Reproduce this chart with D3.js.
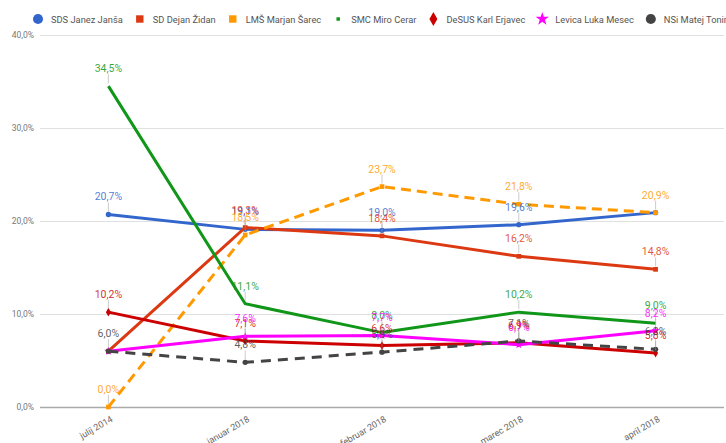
<!DOCTYPE html>
<html>
<head>
<meta charset="utf-8">
<script src="https://cdn.jsdelivr.net/npm/d3@7"></script>
<style>
  body { margin: 0; background: #fff; }
  svg { font-family: Roboto, "Liberation Sans", sans-serif; }
</style>
</head>
<body>
<svg id="chart" width="726" height="443"></svg>
<script>
// months on the x axis
const months = ["julij 2014", "januar 2018", "februar 2018", "marec 2018", "april 2018"];
// party names (legend)
const parties = ["SDS Janez Janša", "SD Dejan Židan", "LMŠ Marjan Šarec", "SMC Miro Cerar", "DeSUS Karl Erjavec", "Levica Luka Mesec", "NSi Matej Tonin"];
// values in %
const sds = [20.7, 19.1, 19.0, 19.6, 20.9];
const sd = [6.0, 19.3, 18.4, 16.2, 14.8];
const lms = [0.0, 18.5, 23.7, 21.8, 20.9];
const smc = [34.5, 11.1, 8.0, 10.2, 9.0];
const desus = [10.2, 7.1, 6.6, 6.9, 5.8];
const levica = [6.0, 7.6, 7.7, 6.7, 8.2];
const nsi = [6.0, 4.8, 5.9, 7.1, 6.2];
const yTicks = [0, 10, 20, 30, 40];

const svg = d3.select("svg#chart");
const margins = {"top": 35, "right": 2, "bottom": 36, "left": 40};
const width = +svg.attr("width");
const height = +svg.attr("height");
const chartWidth = width - margins.left - margins.right;
const chartHeight = height - margins.top - margins.bottom;

const colors = ["#3366cc", "#dc3912", "#ff9900", "#109618", "#cc0000", "#ff00ff", "#444444"];
const dashes = [null, null, "10,6", null, null, null, "10,7"];
const symbols = [d3.symbolCircle, d3.symbolSquare, d3.symbolSquare, d3.symbolSquare, d3.symbolDiamond, d3.symbolStar, d3.symbolCircle];
const series = [sds, sd, lms, smc, desus, levica, nsi].map((v, i) => ({name: parties[i], values: v, i: i}));

const fmt = v => v.toFixed(1).replace(".", ",") + "%";

const xScale = d3.scaleBand().domain(months).range([0, chartWidth]);
const yScale = d3.scaleLinear().domain([0, 40]).range([chartHeight, 0]);
const xPos = m => xScale(m) + xScale.bandwidth() / 2;

const chart = svg.append("g").attr("transform", "translate(" + margins.left + "," + margins.top + ")");

// gridlines
const grid = chart.append("g").attr("class", "gridlines")
  .call(d3.axisLeft(yScale).tickValues(yTicks).tickSize(-chartWidth).tickFormat(""));
grid.select(".domain").remove();
grid.selectAll("line").attr("stroke", d => d === 0 ? "#aaaaaa" : "#e0e0e0").attr("stroke-width", d => d === 0 ? 1.5 : 1);

// y labels
chart.append("g").selectAll("text").data(yTicks).enter().append("text")
  .attr("x", -6).attr("y", d => yScale(d) + 3)
  .attr("text-anchor", "end").attr("fill", "#777").style("font-size", "8.5px")
  .text(d => d.toFixed(1).replace(".", ",") + "%");

// x labels
chart.append("g").selectAll("text").data(months).enter().append("text")
  .attr("transform", d => `translate(${xPos(d) + 5},${chartHeight + 14}) rotate(-30)`)
  .attr("text-anchor", "end").attr("fill", "#666").style("font-size", "9px")
  .text(d => d);

const line = d3.line().x((d, j) => xPos(months[j])).y(d => yScale(d));

const g = chart.selectAll("g.series").data(series).enter().append("g").attr("class", "series");
g.append("path")
  .attr("d", d => line(d.values))
  .attr("fill", "none")
  .attr("stroke", d => colors[d.i])
  .attr("stroke-width", 3)
  .attr("stroke-dasharray", d => dashes[d.i]);
g.selectAll("path.pt").data(d => d.values.map((v, j) => ({v: v, j: j, i: d.i}))).enter()
  .append("path").attr("class", "pt")
  .attr("transform", d => `translate(${xPos(months[d.j])},${yScale(d.v)})`)
  .attr("d", d => d3.symbol().type(symbols[d.i]).size(d.i === 3 ? 0 : 22)())
  .attr("fill", d => colors[d.i]);

// value labels (a label hidden when a later series has the same value at that month)
const labels = [];
series.forEach(s => s.values.forEach((v, j) => {
  const dup = series.some(o => o.i > s.i && o.values[j] === v);
  if (!dup) labels.push({v: v, j: j, i: s.i});
}));
const lab = chart.append("g").selectAll("g").data(labels).enter().append("g");
lab.append("line")
  .attr("x1", d => xPos(months[d.j])).attr("x2", d => xPos(months[d.j]))
  .attr("y1", d => yScale(d.v) - 3).attr("y2", d => yScale(d.v) - 12)
  .attr("stroke", "#999").attr("stroke-opacity", 0.5);
lab.append("text")
  .attr("x", d => xPos(months[d.j]))
  .attr("y", d => yScale(d.v) - 14)
  .attr("text-anchor", "middle")
  .attr("fill", d => colors[d.i])
  .attr("fill-opacity", 0.85)
  .style("font-size", "10.5px")
  .text(d => fmt(d.v));

// legend
const legend = svg.append("g").attr("transform", "translate(38,19)");
let lx = 0;
series.forEach(s => {
  const item = legend.append("g").attr("transform", `translate(${lx},0)`);
  item.append("path")
    .attr("d", d3.symbol().type(symbols[s.i]).size(s.i === 3 ? 12 : (s.i === 0 || s.i === 6 ? 80 : 55))())
    .attr("fill", colors[s.i]);
  const t = item.append("text").attr("x", 13).attr("y", 3.5)
    .attr("fill", "#555").style("font-size", "9.3px").text(s.name);
  lx += 13 + t.node().getComputedTextLength() + 17;
});
</script>
</body>
</html>
